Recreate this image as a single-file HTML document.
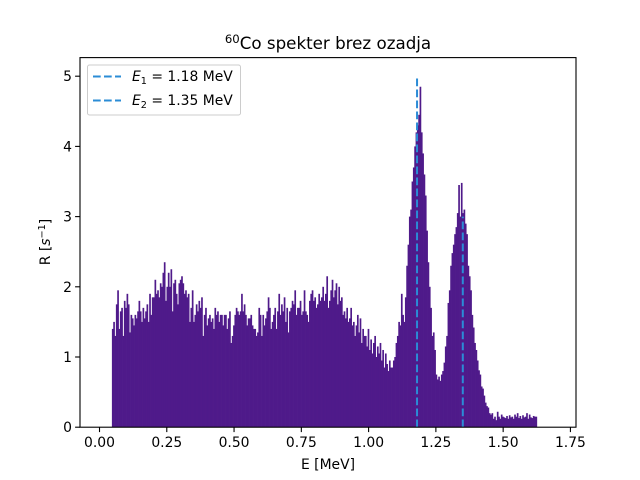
<!DOCTYPE html>
<html><head><meta charset="utf-8"><style>
body{margin:0;background:#fff;}
svg{display:block;font-family:"DejaVu Sans","Liberation Sans",sans-serif;}
</style></head><body>
<svg id="chart" width="640" height="480" viewBox="0 0 640 480">
<rect x="0" y="0" width="640" height="480" fill="#fff"/>
<g id="bars"></g>
<g id="vlines"></g>
<rect x="80" y="57.6" width="496" height="369.6" fill="none" stroke="#000" stroke-width="1.1"/>
<g id="xticks" font-size="13.9" fill="#000"></g>
<g id="yticks" font-size="13.9" fill="#000"></g>
<text x="328" y="49" text-anchor="middle" font-size="16.7"><tspan font-size="11.7" dy="-6">60</tspan><tspan dy="6">Co spekter brez ozadja</tspan></text>
<text x="328" y="469" text-anchor="middle" font-size="13.9">E [MeV]</text>
<text transform="translate(50,242) rotate(-90)" text-anchor="middle" font-size="13.9">R [<tspan font-style="italic">s</tspan><tspan font-size="9.7" dy="-5">−1</tspan><tspan dy="5">]</tspan></text>
<g>
<rect x="87.5" y="65" width="153" height="50" rx="2" fill="#fff" fill-opacity="0.8" stroke="#ccc" stroke-width="1"/>
<line x1="93" y1="76.5" x2="121" y2="76.5" stroke="#2b8cd6" stroke-width="2" stroke-dasharray="7.7,3.3"/>
<text x="132" y="81" font-size="13.9"><tspan font-style="italic">E</tspan><tspan font-size="9.7" dy="3">1</tspan><tspan dy="-3"> = 1.18 MeV</tspan></text>
<line x1="93" y1="100.5" x2="121" y2="100.5" stroke="#2b8cd6" stroke-width="2" stroke-dasharray="7.7,3.3"/>
<text x="132" y="105" font-size="13.9"><tspan font-style="italic">E</tspan><tspan font-size="9.7" dy="3">2</tspan><tspan dy="-3"> = 1.35 MeV</tspan></text>
</g>
</svg>
<script>
const binStart = 0.046;
const binWidth = 0.00495;
const counts = [
1.4,1.5,1.3,1.75,1.95,1.4,1.65,1.7,1.3,1.8,
1.7,1.9,1.75,1.35,1.6,1.55,1.45,1.6,1.55,1.65,
1.8,1.65,1.5,1.7,1.55,1.65,1.75,1.5,1.9,1.6,
1.85,1.85,2.1,1.9,1.95,1.85,2.05,2.0,2.2,2.35,
1.8,2.0,2.2,2.0,2.25,1.65,2.05,2.1,1.9,1.75,
2.05,2.1,2.15,2.05,1.9,1.95,1.85,1.9,1.5,1.7,
1.95,1.5,1.6,1.75,1.65,1.8,1.7,1.85,1.3,1.6,
1.7,1.45,1.55,1.6,1.5,1.55,1.4,1.7,1.6,1.65,
1.5,1.6,1.6,1.45,1.6,1.6,1.4,1.55,1.65,1.2,
1.3,1.45,1.6,1.7,1.65,1.6,1.65,1.9,1.65,1.75,
1.6,1.45,1.55,1.55,1.6,1.45,1.4,1.4,1.3,1.35,
1.7,1.6,1.3,1.6,1.45,1.55,1.65,1.85,1.7,1.4,
1.5,1.6,1.7,1.4,1.65,1.9,1.6,1.75,1.65,1.85,
1.5,1.7,1.35,1.65,1.7,1.8,1.75,1.95,1.6,1.7,
1.7,1.8,1.6,1.65,1.95,1.65,1.6,1.5,1.8,1.9,
1.95,1.8,1.85,1.7,1.75,1.9,1.8,1.85,2.0,1.8,
1.9,2.15,1.7,1.8,1.95,2.1,1.85,1.95,2.05,1.75,
2.0,1.8,1.85,1.6,1.65,1.55,1.7,1.5,1.55,1.7,
1.45,1.5,1.3,1.45,1.6,1.35,1.55,1.2,1.4,1.3,
1.3,1.15,1.4,1.1,1.25,1.05,1.2,1.3,1.0,1.15,
1.05,1.2,0.95,1.1,0.85,1.05,0.9,0.8,0.95,0.85,
0.85,0.95,1.0,1.2,1.3,1.5,1.45,1.9,1.6,1.5,
1.85,2.3,2.6,3.0,3.1,3.5,3.7,4.0,4.2,4.3,
4.45,4.85,4.2,3.9,3.6,3.3,2.8,2.35,2.0,1.7,
1.3,1.35,1.1,0.75,0.68,0.72,0.66,0.75,0.8,0.92,
1.15,1.3,1.77,1.95,2.3,2.48,2.6,2.75,2.85,3.05,
3.45,3.0,3.48,3.05,3.1,2.9,2.75,2.3,2.15,1.95,
1.6,1.42,1.2,1.1,0.95,0.81,0.75,0.58,0.55,0.45,
0.35,0.3,0.28,0.2,0.18,0.2,0.12,0.15,0.1,0.22,
0.15,0.12,0.18,0.15,0.14,0.13,0.16,0.12,0.17,0.14,
0.15,0.12,0.18,0.15,0.2,0.13,0.16,0.12,0.17,0.14,
0.15,0.2,0.12,0.18,0.14,0.13,0.16,0.15,0.15
];
const peakLabels = ["E1","E2"];
const peakEnergies = [1.18, 1.35];
const peakHeights = [5.0, 3.0];
const xTicks = [0.00,0.25,0.50,0.75,1.00,1.25,1.50,1.75];
const xTickLabels = ["0.00","0.25","0.50","0.75","1.00","1.25","1.50","1.75"];
const yTicks = [0,1,2,3,4,5];
const yTickLabels = ["0","1","2","3","4","5"];

const NS="http://www.w3.org/2000/svg";
const xMin=-0.0725, xMax=1.7707, yMin=0, yMax=5.265;
const L=80,R=576,T=57.6,B=427.2;
function xs(v){return L+(v-xMin)/(xMax-xMin)*(R-L);}
function ys(v){return B-(v-yMin)/(yMax-yMin)*(B-T);}
function mk(tag,attrs,parent){const e=document.createElementNS(NS,tag);for(const k in attrs)e.setAttribute(k,attrs[k]);parent.appendChild(e);return e;}

const bars=document.getElementById('bars');
counts.forEach((c,i)=>{
  const x0=xs(binStart+i*binWidth), x1=xs(binStart+(i+1)*binWidth);
  const r=mk('rect',{x:x0,y:ys(c),width:(x1-x0)+0.35,height:ys(0)-ys(c),fill:'#4f1a8a'},bars);
  
  
});
const vl=document.getElementById('vlines');
peakEnergies.forEach((e,i)=>{
  const l=mk('line',{x1:xs(e),x2:xs(e),y1:ys(0),y2:ys(peakHeights[i]),stroke:'#2b8cd6','stroke-width':2,'stroke-dasharray':'7.7,3.3'},vl);
  
  
});
const xt=document.getElementById('xticks');
xTicks.forEach((t,i)=>{
  const g=mk('g',{},xt);
  
  
  mk('line',{x1:xs(t),x2:xs(t),y1:B,y2:B+4.9,stroke:'#000','stroke-width':1.1},g);
  const tx=mk('text',{x:xs(t),y:B+20,'text-anchor':'middle'},g);
  tx.textContent=xTickLabels[i];
});
const yt=document.getElementById('yticks');
yTicks.forEach((t,i)=>{
  const g=mk('g',{},yt);
  
  
  mk('line',{x1:L-4.9,x2:L,y1:ys(t),y2:ys(t),stroke:'#000','stroke-width':1.1},g);
  const tx=mk('text',{x:L-8,y:ys(t)+5,'text-anchor':'end'},g);
  tx.textContent=yTickLabels[i];
});
</script>
</body></html>
